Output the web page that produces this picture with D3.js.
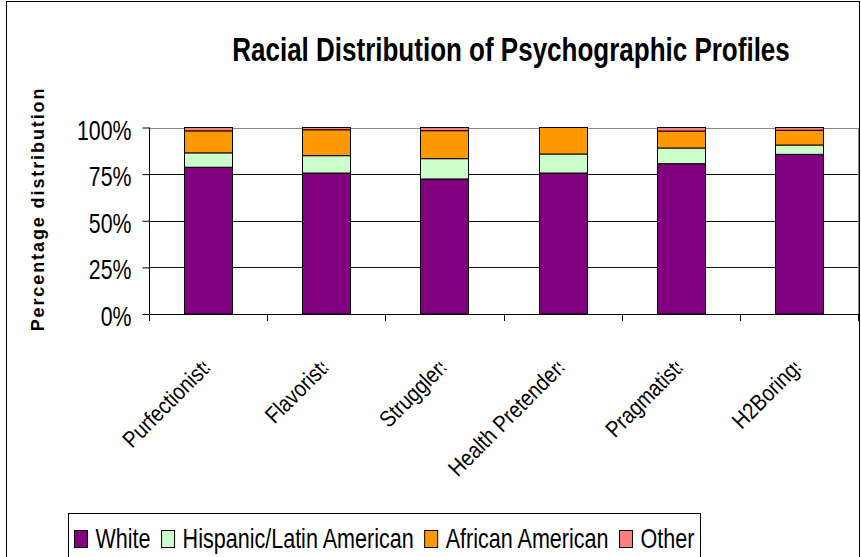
<!DOCTYPE html>
<html>
<head>
<meta charset="utf-8">
<script src="https://cdn.jsdelivr.net/npm/d3@7"></script>
<style>
  body { margin: 0; background: #fff; }
  text { font-family: "Liberation Sans", Arial, sans-serif; fill: #000; }
</style>
</head>
<body>
<svg id="chart" width="861" height="557"></svg>
<script>
// Profile categories and the share (%) of each racial group within them
const categories = ["Purfectionists", "Flavorists", "Strugglers", "Health Pretenders", "Pragmatists", "H2Borings"];
const seriesNames = ["White", "Hispanic/Latin American", "African American", "Other"];
const white    = [78.7, 75.6, 72.4, 75.6, 80.6, 85.6];
const hispanic = [7.7, 9.3, 10.9, 10.2, 8.4, 5.0];
const african  = [11.8, 13.9, 15.0, 14.2, 9.1, 7.9];
const other    = [1.8, 1.2, 1.7, 0.0, 1.9, 1.5];
const seriesColors = ["#800080", "#CCFFCC", "#FF9900", "#FF8080"];
const yTicks = [0, 25, 50, 75, 100];

const rows = categories.map((c, i) => ({
  category: c,
  "White": white[i],
  "Hispanic/Latin American": hispanic[i],
  "African American": african[i],
  "Other": other[i]
}));

const svg = d3.select("#chart");
const plot = { left: 149, right: 858, top: 127.5, bottom: 314 };

const x = d3.scaleBand()
  .domain(categories)
  .range([plot.left, plot.right])
  .paddingInner(0.594)
  .paddingOuter(0.297);

const y = d3.scaleLinear().domain([0, 100]).range([plot.bottom, plot.top]);
const color = d3.scaleOrdinal().domain(seriesNames).range(seriesColors);

// outer chart frame
svg.append("rect")
  .attr("x", 6.5).attr("y", 1.5)
  .attr("width", 853).attr("height", 600)
  .attr("fill", "none").attr("stroke", "#000");

// title
svg.append("text")
  .attr("transform", "translate(511,61) scale(0.765,1)")
  .attr("text-anchor", "middle")
  .style("font-size", "34px").style("font-weight", "bold")
  .text("Racial Distribution of Psychographic Profiles");

// y axis title
svg.append("text")
  .attr("transform", "translate(44,209) rotate(-90)")
  .attr("text-anchor", "middle")
  .style("font-size", "18px").style("font-weight", "bold")
  .style("letter-spacing", "1.9px")
  .text("Percentage distribution");

// gridlines
svg.append("g")
  .selectAll("line")
  .data(yTicks.filter(t => t > 0 && t < 100))
  .join("line")
  .attr("x1", plot.left).attr("x2", plot.right)
  .attr("y1", d => Math.round(y(d)) + 0.5).attr("y2", d => Math.round(y(d)) + 0.5)
  .attr("stroke", "#111");

// plot area border (top and right)
svg.append("path")
  .attr("d", `M${plot.left},${Math.round(plot.top) + 0.5}H${plot.right + 0.5}V${plot.bottom}`)
  .attr("fill", "none").attr("stroke", "#888");

// stacked bars
const stack = d3.stack().keys(seriesNames)(rows);
svg.append("g")
  .selectAll("g")
  .data(stack)
  .join("g")
  .attr("fill", d => color(d.key))
  .selectAll("rect")
  .data(d => d.filter(s => s[1] - s[0] > 0))
  .join("rect")
  .attr("x", d => Math.round(x(d.data.category)) + 0.5)
  .attr("width", Math.round(x.bandwidth()))
  .attr("y", d => y(d[1]))
  .attr("height", d => y(d[0]) - y(d[1]))
  .attr("stroke", "#000").attr("stroke-width", 1);

// y axis with percent ticks
const yAxis = svg.append("g")
  .attr("transform", `translate(${plot.left + 0.5},0)`)
  .call(d3.axisLeft(y).tickValues(yTicks).tickSize(7).tickSizeOuter(0).tickFormat(d => d + "%"));
yAxis.select(".domain").remove();
yAxis.selectAll(".tick line").attr("stroke", "#000");
yAxis.selectAll(".tick text")
  .attr("x", null).attr("dy", null)
  .attr("transform", "translate(-18,11.5) scale(0.79,1)")
  .style("font-size", "27px").style("font-family", "'Liberation Sans', Arial, sans-serif");
svg.append("line")
  .attr("x1", plot.left + 0.5).attr("x2", plot.left + 0.5)
  .attr("y1", plot.top).attr("y2", plot.bottom + 7)
  .attr("stroke", "#000");

// category axis baseline and boundary ticks
svg.append("line")
  .attr("x1", plot.left).attr("x2", plot.right + 1)
  .attr("y1", plot.bottom + 0.5).attr("y2", plot.bottom + 0.5)
  .attr("stroke", "#000");
const step = x.step();
const bounds = d3.range(categories.length + 1).map(i => plot.left + i * step);
svg.append("g")
  .selectAll("line")
  .data(bounds)
  .join("line")
  .attr("x1", d => Math.round(d) + 0.5).attr("x2", d => Math.round(d) + 0.5)
  .attr("y1", plot.bottom).attr("y2", plot.bottom + 7)
  .attr("stroke", "#000");

// rotated category labels; each is trimmed by a box ending at the tick
svg.append("defs").append("clipPath").attr("id", "labelBox")
  .append("rect")
  .attr("x", -300).attr("y", -40)
  .attr("width", 300).attr("height", 60);
categories.forEach(c => {
  const cx = x(c) + x.bandwidth() / 2;
  svg.append("g")
    .attr("transform", `translate(${cx + 3},370) rotate(-45)`)
    .attr("clip-path", "url(#labelBox)")
    .append("text")
    .attr("transform", "translate(7,0) scale(0.86,1)")
    .attr("text-anchor", "end")
    .style("font-size", "23px")
    .text(c);
});

// legend
const legend = svg.append("g");
legend.append("rect")
  .attr("x", 68.5).attr("y", 513.5)
  .attr("width", 632).attr("height", 80)
  .attr("fill", "#fff").attr("stroke", "#000");
let lx = 74.5;
const legendScale = 0.77;
seriesNames.forEach((name, i) => {
  legend.append("rect")
    .attr("x", lx).attr("y", 530.5)
    .attr("width", 13).attr("height", 17)
    .attr("fill", seriesColors[i]).attr("stroke", "#000");
  const t = legend.append("text")
    .attr("transform", `translate(${lx + 21},548) scale(${legendScale},1)`)
    .style("font-size", "28px")
    .text(name);
  lx += 21 + t.node().getComputedTextLength() * legendScale + 11;
});
</script>
</body>
</html>
